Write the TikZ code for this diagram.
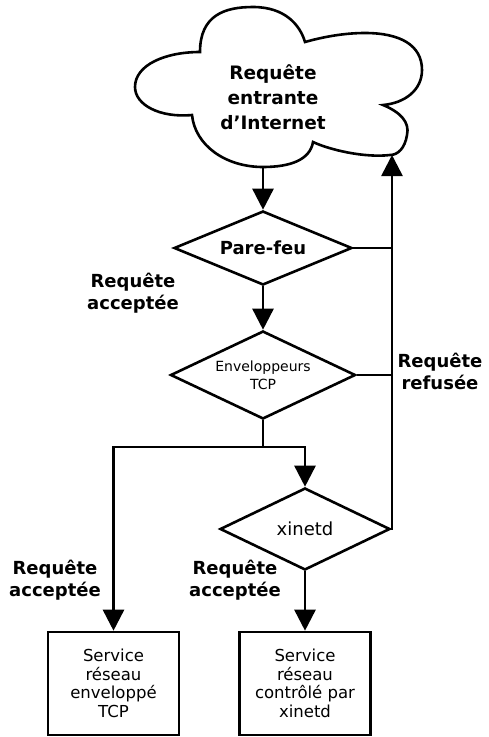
\documentclass[tikz,border=0pt]{standalone}
\usepackage{fontspec}
\setmainfont{DejaVu Sans}
\setsansfont{DejaVu Sans}
\usetikzlibrary{arrows.meta, positioning, shapes.geometric, calc}
\tikzset{
  every picture/.style={font=\sffamily, line width=2.6pt},
  decision/.style={draw, diamond, aspect=2.2, inner sep=0pt, align=center},
  servicebox/.style={draw, rectangle, align=center, inner sep=0pt, minimum width=131pt, minimum height=103pt, font=\sffamily\fontsize{16.5}{18.5}\selectfont},
  arrow/.style={-{Triangle[length=21pt, width=21pt]}},
  flowtext/.style={font=\sffamily\bfseries\fontsize{18}{22}\selectfont, align=center},
}

\begin{document}
\begin{tikzpicture}[x=1pt, y=-1pt]
  \useasboundingbox (0,0) rectangle (488,737);
  % the internet cloud
  \draw (200,52) .. controls (200,15) and (225,7) .. (253,7)
        .. controls (285,7) and (300,25) .. (305,42)
        .. controls (330,35) and (350,33) .. (365,33)
        .. controls (400,33) and (422,45) .. (422,70)
        .. controls (422,90) and (405,103) .. (383,105)
        .. controls (400,112) and (410,122) .. (407,135)
        .. controls (405,148) and (398,155) .. (390,155)
        .. controls (365,158) and (330,150) .. (313,142)
        .. controls (310,160) and (290,167) .. (263,167)
        .. controls (225,167) and (195,145) .. (192,115)
        .. controls (160,118) and (135,105) .. (135,87)
        .. controls (135,65) and (165,52) .. (200,52) -- cycle;
  \node[flowtext, font=\sffamily\bfseries\fontsize{18.5}{25}\selectfont] (net) at (273,97) {Requête\\entrante\\d'Internet};
  \coordinate (netout) at (263,167);
  \coordinate (netin) at (392,155);
  % checks
  \node[decision, minimum width=178pt, minimum height=74pt, font=\sffamily\bfseries\fontsize{18}{22}\selectfont] (fw) at (263,248) {Pare-feu};
  \node[decision, minimum width=185pt, minimum height=88pt, font=\sffamily\fontsize{14}{18}\selectfont] (tcpw) at (263,375) {Enveloppeurs\\TCP};
  \node[decision, minimum width=170pt, minimum height=82pt, font=\sffamily\fontsize{18}{22}\selectfont] (xin) at (305,529) {xinetd};
  % services
  \node[servicebox] (wrapped) at (113.5,683.5) {Service\\réseau\\enveloppé\\TCP};
  \node[servicebox] (ctrl) at (305,683.5) {Service\\réseau\\contrôlé par\\xinetd};
  \coordinate (split) at (263,447);
  % accepted path
  \draw[arrow] (netout) -- (fw);
  \draw[arrow] (fw) -- (tcpw);
  \draw (tcpw.south) -- (split);
  \draw[arrow] (split) -| (wrapped.north);
  \draw[arrow] (split) -| (xin.north);
  \draw[arrow] (xin) -- (ctrl);
  % refused path
  \draw[arrow] (xin.east) -| (netin);
  \draw (fw.east) -- (fw.east -| netin);
  \draw (tcpw.east) -- (tcpw.east -| netin);
  % labels
  \node[flowtext] (okfw) at (133,293) {Requête\\acceptée};
  \node[flowtext] (nok) at (440,371) {Requête\\refusée};
  \node[flowtext] (oktcp) at (55,580) {Requête\\acceptée};
  \node[flowtext] (okxin) at (235,580) {Requête\\acceptée};
\end{tikzpicture}
\end{document}
